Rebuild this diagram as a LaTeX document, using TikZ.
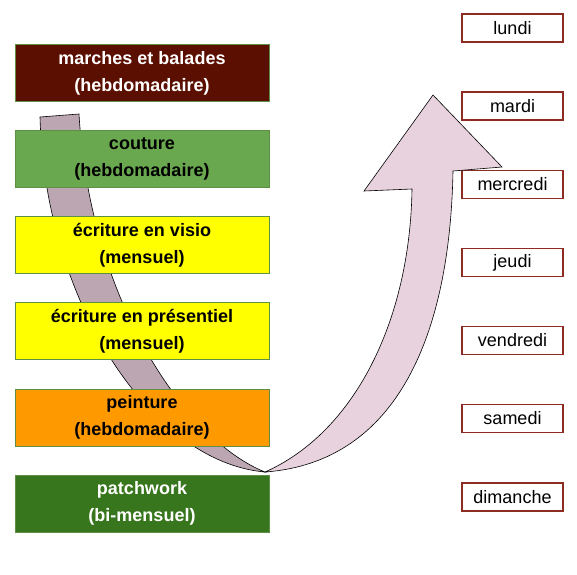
\documentclass[tikz,border=0pt]{standalone}
\usepackage{fontspec}
\setmainfont{Liberation Sans}
\definecolor{cMaroon}{HTML}{5B0F00}
\definecolor{cCouture}{HTML}{6AA84F}
\definecolor{cYellow}{HTML}{FFFF00}
\definecolor{cOrange}{HTML}{FF9900}
\definecolor{cPatch}{HTML}{38761D}
\definecolor{cBorder}{HTML}{5E8F45}
\definecolor{cDay}{HTML}{8E2B22}
\definecolor{cBack}{HTML}{BBA6B2}
\definecolor{cFront}{HTML}{E8D2DD}
\begin{document}
\begin{tikzpicture}[x=1pt,y=-1pt,
  actbox/.style={draw=cBorder, line width=0.9pt, minimum width=254pt, minimum height=57pt,
    align=center, inner sep=0pt, font=\fontsize{18}{27}\selectfont\bfseries},
  daybox/.style={draw=cDay, fill=white, line width=1.1pt, minimum width=101pt, minimum height=28pt,
    inner sep=0pt, font=\fontsize{18}{22}\selectfont},
  band/.style={draw=black, line width=0.6pt, line join=miter}]
\useasboundingbox (0,0) rectangle (577,574);

% back part of the curved arrow
\coordinate (bTL) at (40,117);
\coordinate (bTR) at (79,114);
\coordinate (bottom) at (265,472);
\fill[cBack, draw=black, line width=0.6pt] (bTL) -- (bTR) .. controls (90,300) and (185,440) .. (bottom)
  .. controls (150,462) and (45,300) .. (bTL) -- cycle;

% activity boxes
\node[actbox, fill=cMaroon, text=white] (marches) at (142,73) {marches et balades\\(hebdomadaire)};
\node[actbox, fill=cCouture] (couture) at (142,158.5) {couture\\(hebdomadaire)};
\node[actbox, fill=cYellow] (visio) at (142,245) {écriture en visio\\(mensuel)};
\node[actbox, fill=cYellow] (presentiel) at (142,331) {écriture en présentiel\\(mensuel)};
\node[actbox, fill=cOrange] (peinture) at (142,417.5) {peinture\\(hebdomadaire)};
\node[actbox, fill=cPatch, text=white] (patchwork) at (142,503.5) {patchwork\\(bi-mensuel)};

% day boxes
\node[daybox] (lundi) at (512.5,28) {lundi};
\node[daybox] (mardi) at (512.5,106) {mardi};
\node[daybox] (mercredi) at (512.5,184.5) {mercredi};
\node[daybox] (jeudi) at (512.5,262.5) {jeudi};
\node[daybox] (vendredi) at (512.5,340.5) {vendredi};
\node[daybox] (samedi) at (512.5,418.5) {samedi};
\node[daybox] (dimanche) at (512.5,497) {dimanche};

% front part of the curved arrow
\coordinate (fOut) at (453,171);
\coordinate (fBarbR) at (502,167);
\coordinate (fTip) at (433,95);
\coordinate (fBarbL) at (364,191);
\coordinate (fIn) at (412,189);
\fill[cFront, draw=black, line width=0.6pt, line join=miter] (bottom)
  .. controls (400,462) and (450,330) .. (fOut) -- (fBarbR) -- (fTip) -- (fBarbL) -- (fIn)
  .. controls (410,320) and (355,432) .. (bottom) -- cycle;
\end{tikzpicture}
\end{document}
